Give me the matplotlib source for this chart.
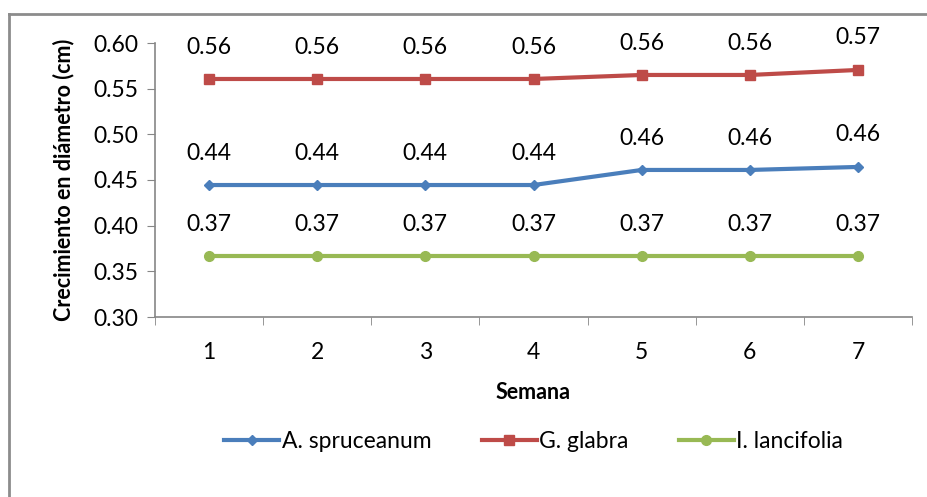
import matplotlib.pyplot as plt
from matplotlib.lines import Line2D

semanas = [1, 2, 3, 4, 5, 6, 7]
a_spruceanum = [0.4445, 0.4445, 0.4445, 0.4445, 0.461, 0.461, 0.4643]
g_glabra = [0.5606, 0.5606, 0.5606, 0.5606, 0.565, 0.565, 0.5705]
i_lancifolia = [0.3668, 0.3668, 0.3668, 0.3668, 0.3668, 0.3668, 0.3668]

plt.rcParams['font.family'] = ['Lato', 'DejaVu Sans']

fig = plt.figure(figsize=(9.27, 4.97), dpi=100)
ax = fig.add_axes([155 / 927, 1 - 317 / 497, (912 - 155) / 927, (317 - 43) / 497])

series = [
    ('A. spruceanum', a_spruceanum, '#4A7EBB', 'D', 5),
    ('G. glabra', g_glabra, '#BE4B48', 's', 7),
    ('I. lancifolia', i_lancifolia, '#98B954', 'o', 7),
]
for name, vals, color, marker, ms in series:
    ax.plot(semanas, vals, color=color, lw=3, marker=marker, ms=ms, label=name)
    for x, y in zip(semanas, vals):
        ax.annotate('%.2f' % y, (x, y), textcoords='offset points', xytext=(0, 23),
                    ha='center', va='center', fontsize=16.5)

ax.set_xlim(0.5, 7.5)
ax.set_ylim(0.30, 0.60)
ax.set_yticks([0.30, 0.35, 0.40, 0.45, 0.50, 0.55, 0.60])
ax.set_yticklabels(['%.2f' % v for v in ax.get_yticks()])
ax.set_xticks(semanas)
ax.set_xticks([i + 0.5 for i in range(0, 8)], minor=True)
ax.tick_params(axis='x', which='major', length=0, pad=18, labelsize=16.5)
ax.tick_params(axis='x', which='minor', length=6, color='#868686', direction='out')
ax.tick_params(axis='y', length=6, color='#868686', labelsize=16.5, pad=6)

for s in ['top', 'right']:
    ax.spines[s].set_visible(False)
for s in ['left', 'bottom']:
    ax.spines[s].set_color('#868686')
    ax.spines[s].set_linewidth(1.2)

ax.set_xlabel('Semana', fontsize=15.5, fontweight='bold', labelpad=14)
ax.set_ylabel('Crecimiento en diámetro (cm)', fontsize=15.5, fontweight='bold', labelpad=14)

ax.legend(loc='upper center', bbox_to_anchor=(0.5, -0.34), ncol=3, frameon=False,
          fontsize=16.5, handlelength=2.4, handletextpad=0.1, columnspacing=2.2)

# outer chart frame
fig.add_artist(Line2D([9 / 927, 9 / 927], [0, 1 - 14 / 497], color='#8C8C8C', lw=2))
fig.add_artist(Line2D([9 / 927, 1], [1 - 14 / 497, 1 - 14 / 497], color='#8C8C8C', lw=2))

fig.savefig('out.png', dpi=100)
